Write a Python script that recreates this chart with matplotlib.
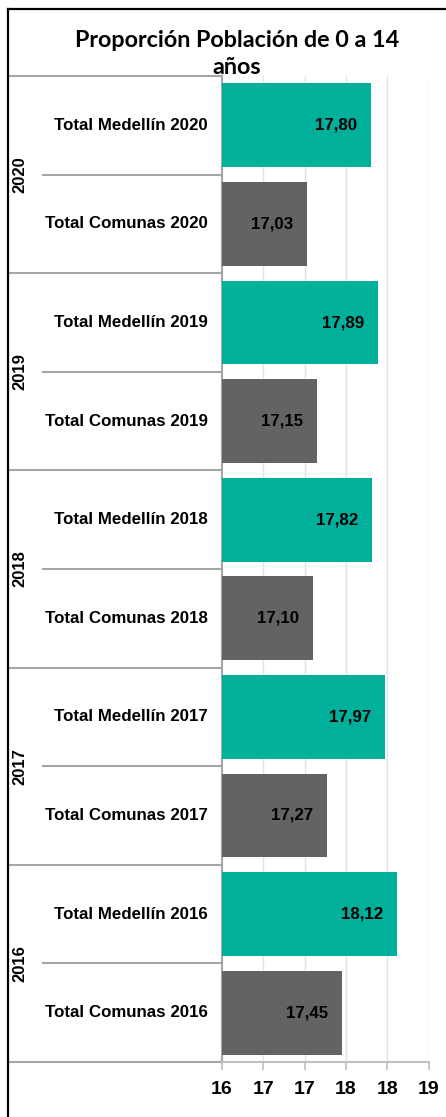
import matplotlib
matplotlib.use("Agg")
import matplotlib.pyplot as plt
from matplotlib.transforms import blended_transform_factory
from matplotlib.lines import Line2D

# ---- data ----
years = ["2020", "2019", "2018", "2017", "2016"]
categories = ["Total Medellín 2020", "Total Comunas 2020",
              "Total Medellín 2019", "Total Comunas 2019",
              "Total Medellín 2018", "Total Comunas 2018",
              "Total Medellín 2017", "Total Comunas 2017",
              "Total Medellín 2016", "Total Comunas 2016"]
values = [17.80, 17.03, 17.89, 17.15, 17.82, 17.10, 17.97, 17.27, 18.12, 17.45]
series_kind = ["Medellín", "Comunas"] * 5
tick_values = [16, 16.5, 17, 17.5, 18, 18.5]
tick_labels = ["16", "17", "17", "18", "18", "19"]
title = "Proporción Población de 0 a 14\naños"

TEAL = "#00B09B"
GREY = "#636363"
LINE = "#A6A6A6"
GRID = "#D8E7EA"
FONT = "Liberation Sans"

W, H = 446, 1117
fig = plt.figure(figsize=(W / 100, H / 100), dpi=100)
ax = fig.add_axes([222 / W, 1 - 1062 / H, (428.5 - 222) / W, (1062 - 76) / H])

ypos = list(range(len(categories)))
colors = [TEAL if k == "Medellín" else GREY for k in series_kind]
bars = ax.barh(ypos, [v - 16 for v in values], left=16, height=0.85, color=colors, zorder=3)

ax.set_xlim(16, 18.5)
ax.set_ylim(len(categories) - 0.5, -0.5)

# value labels inside end
for y, v in zip(ypos, values):
    ax.annotate(f"{v:.2f}".replace(".", ","), xy=(v, y), xytext=(-14 * 72 / 100, 0),
                textcoords="offset points", ha="right", va="center",
                fontsize=12.2, fontweight="bold", family=FONT, color="black", zorder=4)

# grid
for t in tick_values[1:]:
    ax.axvline(t, color=GRID, lw=1, zorder=1)

ax.set_xticks(tick_values)
ax.set_xticklabels(tick_labels, fontsize=14, fontweight="bold", family=FONT)
ax.tick_params(axis="x", length=6, width=1.2, color="#BFBFBF", pad=8)
ax.set_yticks([])
for s in ["top", "right"]:
    ax.spines[s].set_visible(False)
ax.spines["left"].set_color(LINE)
ax.spines["left"].set_linewidth(1.5)
ax.spines["bottom"].set_color("#BFBFBF")
ax.spines["bottom"].set_linewidth(1.5)

# multi-level category labels
tr = blended_transform_factory(fig.transFigure, ax.transData)
for y, c in zip(ypos, categories):
    ax.text(208 / W, y, c, transform=tr, ha="right", va="center",
            fontsize=12.2, fontweight="bold", family=FONT, clip_on=False)
for i, yr in enumerate(years):
    ax.text(19.5 / W, 2 * i + 0.5, yr, transform=tr, ha="center", va="center",
            rotation=90, fontsize=12, fontweight="bold", family=FONT, clip_on=False)
    ax.add_line(Line2D([43 / W, 222 / W], [2 * i + 0.5, 2 * i + 0.5], transform=tr,
                       color=LINE, lw=1.5, clip_on=False))
for b in range(len(years) + 1):
    yb = 2 * b - 0.5
    ax.add_line(Line2D([8 / W, 222 / W], [yb, yb], transform=tr,
                       color=LINE, lw=1.5, clip_on=False))

# outer frame (left and top)
fig.add_artist(Line2D([8 / W, 8 / W], [0, 1 - 9 / H], transform=fig.transFigure, color="black", lw=1.6))
fig.add_artist(Line2D([8 / W, 1], [1 - 9 / H, 1 - 9 / H], transform=fig.transFigure, color="black", lw=1.6))

fig.text(237 / W, 1 - 54 / H, title, ha="center", va="center", fontsize=16.8,
         fontweight="bold", family="Lato", linespacing=1.3)

fig.savefig("out.png", dpi=100)
